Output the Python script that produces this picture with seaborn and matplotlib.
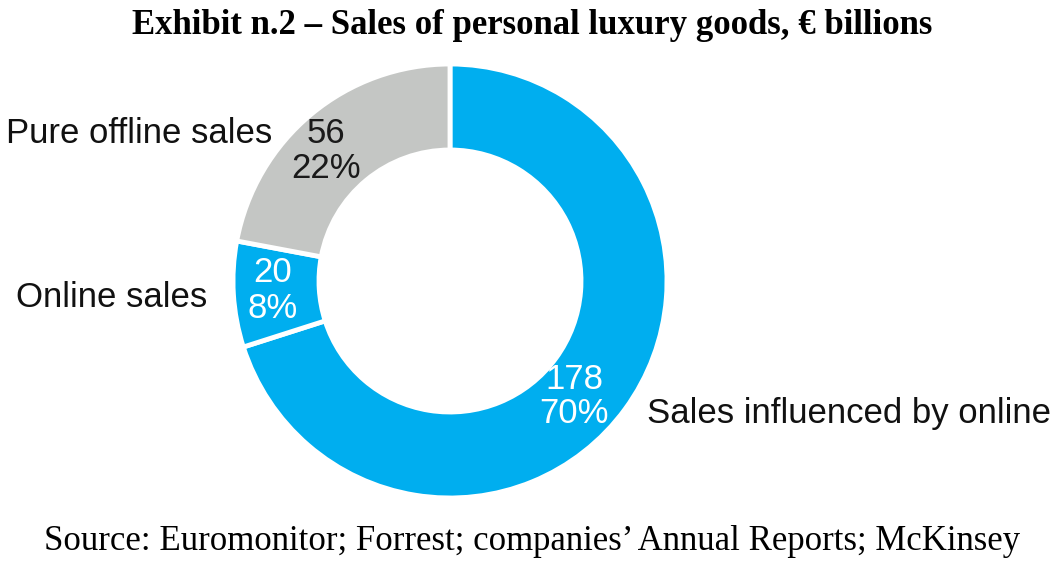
import matplotlib
matplotlib.use("Agg")
import matplotlib.pyplot as plt
import seaborn as sns

categories = ["Sales influenced by online", "Online sales", "Pure offline sales"]
values = [178, 20, 56]
percent_labels = ["70%", "8%", "22%"]
value_labels = ["178", "20", "56"]
colors = ["#00AEEF", "#00AEEF", "#C4C6C4"]
text_colors = ["white", "white", "#1a1a1a"]

sns.set_theme(style="white")
plt.rcParams['font.family'] = ['Liberation Sans', 'DejaVu Sans']

fig = plt.figure(figsize=(10.64, 5.65), dpi=100)
ax = fig.add_axes([0, 0, 1, 1])
R = 217.0
cx, cy = 450.0, 281.0

ax.pie(values, colors=colors, startangle=90, counterclock=False,
       radius=1.0, wedgeprops=dict(width=86 / R, edgecolor='white', linewidth=3.5))
ax.set_xlim(-cx / R, (1064 - cx) / R)
ax.set_ylim((cy - 565) / R, cy / R)
ax.set_aspect('equal')
ax.axis('off')

def px(x, y):
    return (x - cx) / R, (cy - y) / R

FS = 25
num_pos = [(574, 379), (273, 272), (326, 133)]
pct_pos = [(574, 413), (273, 308), (326, 168)]
for i in range(len(values)):
    x, y = px(*num_pos[i])
    ax.text(x, y, value_labels[i], ha='center', va='center', fontsize=FS,
            color=text_colors[i])
    x, y = px(*pct_pos[i])
    ax.text(x, y, percent_labels[i], ha='center', va='center', fontsize=FS,
            color=text_colors[i])

x, y = px(647, 414)
ax.text(x, y, categories[0], ha='left', va='center', fontsize=FS, color='#111111')
x, y = px(207, 297)
ax.text(x, y, categories[1], ha='right', va='center', fontsize=FS, color='#111111')
x, y = px(272, 133)
ax.text(x, y, categories[2], ha='right', va='center', fontsize=FS, color='#111111')

fig.text(0.5, 1 - 26 / 565, "Exhibit n.2 – Sales of personal luxury goods, € billions",
         ha='center', va='center', fontsize=25, fontweight='bold',
         family=['Liberation Serif', 'DejaVu Serif'], color='black')
fig.text(0.5, 1 - 541 / 565, "Source: Euromonitor; Forrest; companies’ Annual Reports; McKinsey",
         ha='center', va='center', fontsize=25,
         family=['Liberation Serif', 'DejaVu Serif'], color='black')

fig.savefig("out.png", dpi=100)
